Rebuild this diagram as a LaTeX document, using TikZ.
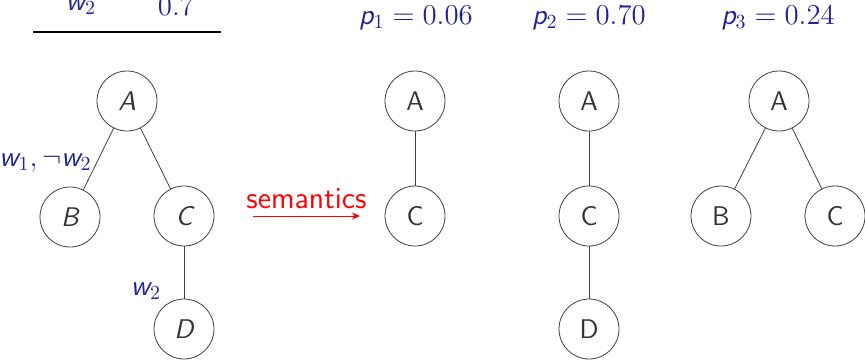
\documentclass[tikz,border=0pt]{standalone}
\usepackage{amsmath}
\usepackage{tikz}
\usetikzlibrary{positioning, arrows.meta}
\definecolor{wblue}{RGB}{35,35,150}
\newcommand{\sv}[1]{\text{\sffamily\itshape #1}}

\begin{document}
\begin{tikzpicture}[
  x=0.5pt, y=-0.5pt,
  font=\fontsize{14.4}{17}\selectfont,
  vert/.style={draw=black!75, circle, minimum size=30pt, inner sep=0pt, text=black!80, font=\fontsize{13.5}{16}\selectfont\sffamily},
  edge/.style={draw=black!75, thin},
  lbl/.style={text=wblue, inner sep=1pt},
  sem/.style={->, >={Stealth[length=4pt, width=3.5pt]}, red, thin}
]
\useasboundingbox (0,0) rectangle (865,359);

% --- table head (cut off at the top) ---
\node[lbl] (hw) at (81,6)  {\sv{w}$_2$};
\node[lbl] (hp) at (176,6) {$0.7$};
\coordinate (rl) at (33,32);
\coordinate (rr) at (221,32);
\draw[line width=1pt] (rl) -- (rr);

% --- annotated tree ---
\node[vert] (a) at (127,101) {\itshape A};
\node[vert] (b) at (70,217)  {\itshape B};
\node[vert] (c) at (184,216) {\itshape C};
\node[vert] (d) at (184,329) {\itshape D};
\draw[edge] (a) -- (b);
\draw[edge] (a) -- (c);
\draw[edge] (c) -- (d);
\node[lbl, anchor=east] (lab) at (94,163) {\sv{w}$_1,\neg$\sv{w}$_2$};
\node[lbl] (lcd) at (146,291) {\sv{w}$_2$};

% --- semantics arrow ---
\coordinate (s0) at (253,216);
\coordinate (s1) at (360,216);
\draw[sem] (s0) -- (s1) node[midway, above=0pt, text=red, font=\fontsize{15.2}{18}\selectfont\sffamily] (st) {semantics};

% --- possible worlds ---
\node[lbl] (p1) at (416,18) {\sv{p}$_1=0.06$};
\node[vert] (a1) at (415,101) {A};
\node[vert] (c1) at (415,216) {C};
\draw[edge] (a1) -- (c1);

\node[lbl] (p2) at (589,18) {\sv{p}$_2=0.70$};
\node[vert] (a2) at (589,101) {A};
\node[vert] (c2) at (589,216) {C};
\node[vert] (d2) at (589,329) {D};
\draw[edge] (a2) -- (c2);
\draw[edge] (c2) -- (d2);

\node[lbl] (p3) at (778,18) {\sv{p}$_3=0.24$};
\node[vert] (a3) at (779,101) {A};
\node[vert] (b3) at (721,216) {B};
\node[vert] (c3) at (835,216) {C};
\draw[edge] (a3) -- (b3);
\draw[edge] (a3) -- (c3);
\end{tikzpicture}
\end{document}
